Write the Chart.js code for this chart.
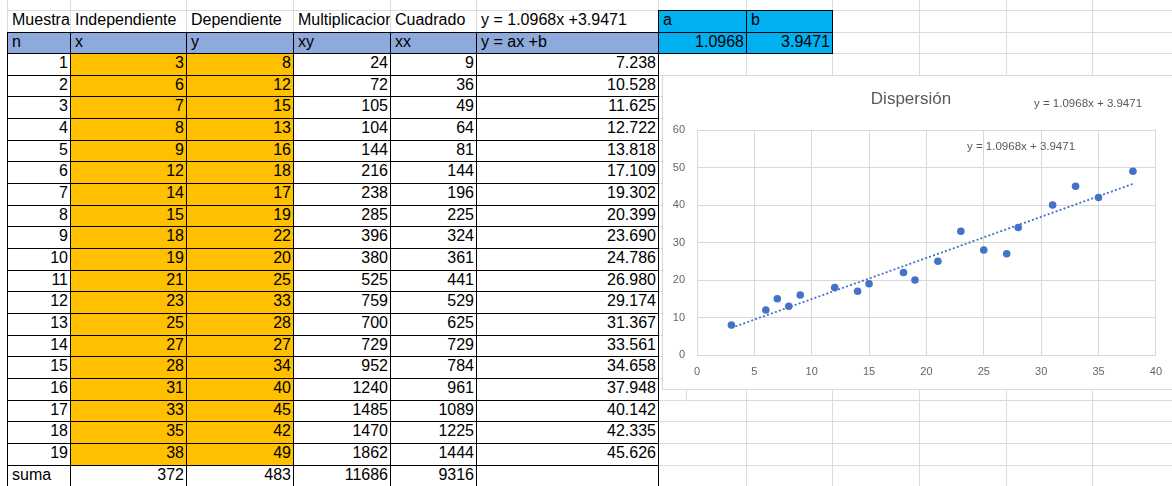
<!DOCTYPE html>
<html>
<head>
<meta charset="utf-8">
<script src="https://cdn.jsdelivr.net/npm/chart.js@4/dist/chart.umd.min.js"></script>
<style>
  body { margin: 0; width: 1172px; height: 486px; overflow: hidden; background: #fff; position: relative;
         font-family: "Liberation Sans", Arial, sans-serif; }
  .g { position: absolute; background: #dcdcdc; }
  .c { position: absolute; box-sizing: border-box; font-size: 16px; line-height: 16px; padding: 1px 2px 0 4px;
       white-space: nowrap; overflow: hidden; color: #000; border: 1px solid transparent; }
  .b { border-color: #000; }
  .r { text-align: right; }
  #frame { position: absolute; left: 662px; top: 75px; width: 509px; height: 313px; border: 1px solid #d9d9d9; background: #fff; }
  #chartBox { position: relative; width: 509px; height: 313px; }
  #shadow { position: absolute; left: 686px; top: 389px; width: 486px; height: 11px;
            border-left: 1px solid #d9d9d9; border-bottom: 1px solid #d9d9d9; }
</style>
</head>
<body>
<div id="sheet"></div>
<div id="shadow"></div>
<div id="frame"><div id="chartBox"><canvas id="myChart"></canvas></div></div>
<script>
// table data
const headTop = ["Muestra", "Independiente", "Dependiente", "Multiplicacion", "Cuadrado", "y = 1.0968x +3.9471"];
const headSub = ["n", "x", "y", "xy", "xx", "y = ax +b"];
const nVals = [1, 2, 3, 4, 5, 6, 7, 8, 9, 10, 11, 12, 13, 14, 15, 16, 17, 18, 19];
const xVals = [3, 6, 7, 8, 9, 12, 14, 15, 18, 19, 21, 23, 25, 27, 28, 31, 33, 35, 38];
const yVals = [8, 12, 15, 13, 16, 18, 17, 19, 22, 20, 25, 33, 28, 27, 34, 40, 45, 42, 49];
const xyVals = [24, 72, 105, 104, 144, 216, 238, 285, 396, 380, 525, 759, 700, 729, 952, 1240, 1485, 1470, 1862];
const xxVals = [9, 36, 49, 64, 81, 144, 196, 225, 324, 361, 441, 529, 625, 729, 784, 961, 1089, 1225, 1444];
const yFit = [7.238, 10.528, 11.625, 12.722, 13.818, 17.109, 19.302, 20.399, 23.690, 24.786,
              26.980, 29.174, 31.367, 33.561, 34.658, 37.948, 40.142, 42.335, 45.626];
const sumRow = ["suma", 372, 483, 11686, 9316, ""];
const coefNames = ["a", "b"];
const coefVals = ["1.0968", "3.9471"];

// chart text
const titleText = "Dispersión";
const eqText = "y = " + coefVals[0] + "x + " + coefVals[1];

// sheet geometry
const colX = [7, 70, 186, 293, 390, 476, 658, 746, 832, 919, 1006, 1092, 1180];
const rowY = [10, 32, 53];
for (let i = 1; i <= 20; i++) rowY.push(Math.round(53 + i * 21.667));

const sheet = document.getElementById("sheet");

// excel grid lines
colX.forEach((x) => {
  let d = document.createElement("div");
  d.className = "g";
  d.style.cssText = "left:" + x + "px;top:0;width:1px;height:486px";
  sheet.appendChild(d);
});
[...rowY, 486].forEach((y) => {
  let d = document.createElement("div");
  d.className = "g";
  d.style.cssText = "left:7px;top:" + y + "px;width:1165px;height:1px";
  sheet.appendChild(d);
});

function cell(c, r, text, bordered, right, bg) {
  let d = document.createElement("div");
  d.className = "c" + (bordered ? " b" : "") + (right ? " r" : "");
  d.style.left = colX[c] + "px";
  d.style.top = rowY[r] + "px";
  d.style.width = colX[c + 1] - colX[c] + 1 + "px";
  d.style.height = rowY[r + 1] - rowY[r] + 1 + "px";
  if (bg) d.style.background = bg;
  d.textContent = text;
  sheet.appendChild(d);
}

headTop.forEach((t, c) => cell(c, 0, t, false, false, null));
headSub.forEach((t, c) => cell(c, 1, t, true, false, "#8EA9DB"));
coefNames.forEach((t, i) => cell(6 + i, 0, t, true, false, "#00B0F0"));
coefVals.forEach((t, i) => cell(6 + i, 1, t, true, true, "#00B0F0"));

nVals.forEach((n, i) => {
  let r = i + 2;
  cell(0, r, n, true, true, "#fff");
  cell(1, r, xVals[i], true, true, "#FFC000");
  cell(2, r, yVals[i], true, true, "#FFC000");
  cell(3, r, xyVals[i], true, true, "#fff");
  cell(4, r, xxVals[i], true, true, "#fff");
  cell(5, r, yFit[i].toFixed(3), true, true, "#fff");
});
sumRow.forEach((t, c) => cell(c, 21, t, true, c > 0, "#fff"));

// chart
const points = xVals.map((x, i) => ({ x: x, y: yVals[i] }));
const trend = xVals.map((x, i) => ({ x: x, y: yFit[i] }));

const eqLabels = {
  id: "eqLabels",
  afterDraw(chart) {
    const ctx = chart.ctx;
    ctx.save();
    ctx.fillStyle = "#595959";
    ctx.font = '11.5px "Liberation Sans"';
    ctx.textAlign = "left";
    ctx.textBaseline = "middle";
    ctx.fillText(eqText, 371, 28);
    ctx.fillText(eqText, 304, 71);
    ctx.restore();
  },
};

const axisFont = { family: "Liberation Sans", size: 11 };

var ctx = document.getElementById("myChart").getContext("2d");
var myChart = new Chart(ctx, {
  type: "scatter",
  data: {
    datasets: [
      {
        label: "y",
        data: points,
        backgroundColor: "#4472C4",
        borderWidth: 0,
        pointRadius: 3.8,
      },
      {
        type: "line",
        label: "trend",
        data: trend,
        borderColor: "#4472C4",
        borderWidth: 1.8,
        borderDash: [2, 2.2],
        pointRadius: 0,
        fill: false,
        tension: 0,
      },
    ],
  },
  plugins: [eqLabels],
  options: {
    responsive: true,
    maintainAspectRatio: false,
    animation: false,
    layout: { padding: { left: 0, right: 13, top: 0, bottom: 0 } },
    plugins: {
      legend: { display: false },
      tooltip: { enabled: false },
      title: {
        display: true,
        text: titleText,
        color: "#595959",
        font: { family: "Liberation Sans", size: 17, weight: "normal" },
        padding: { top: 13, bottom: 20.6 },
      },
    },
    scales: {
      x: {
        type: "linear",
        min: 0,
        max: 40,
        ticks: { stepSize: 5, color: "#666", font: axisFont, padding: 10 },
        grid: { color: "#d9d9d9", drawTicks: false },
        border: { color: "#d9d9d9" },
        afterFit: (scale) => { scale.height = 34; },
      },
      y: {
        min: 0,
        max: 60,
        ticks: { stepSize: 10, color: "#666", font: axisFont, padding: 12 },
        grid: { color: "#d9d9d9", drawTicks: false },
        border: { color: "#d9d9d9" },
        afterFit: (scale) => { scale.width = 34; },
      },
    },
  },
});
</script>
</body>
</html>
